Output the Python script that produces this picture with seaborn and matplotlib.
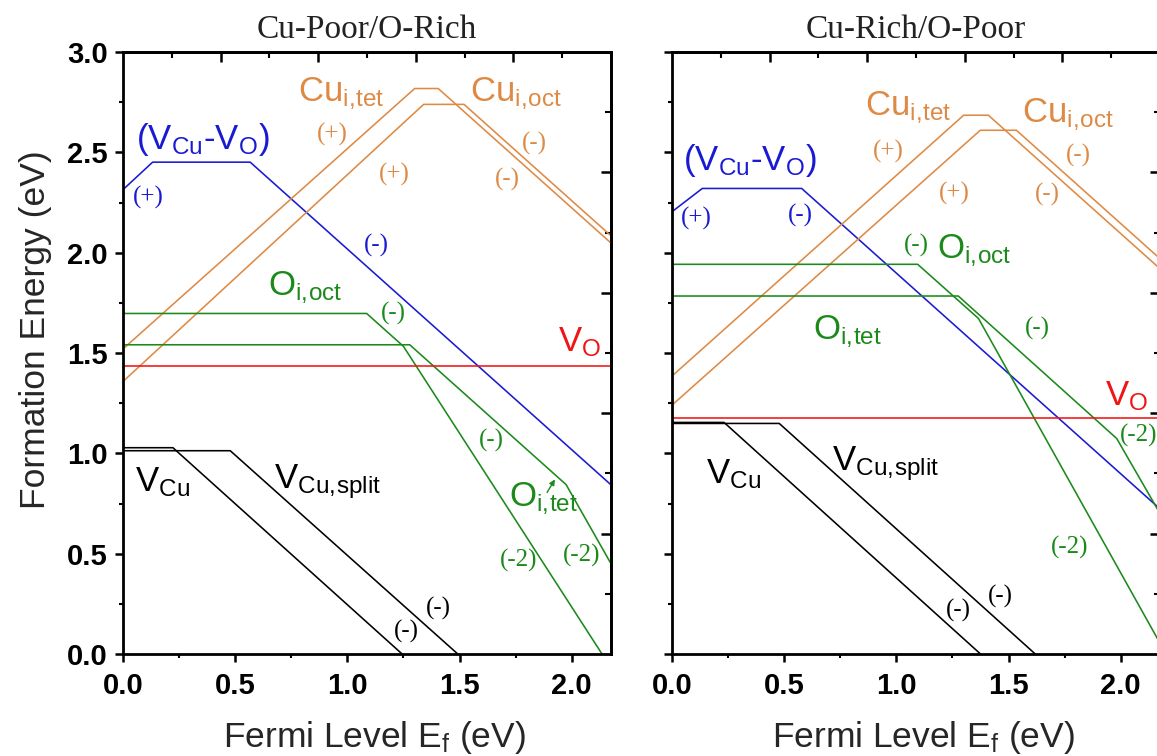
import matplotlib
matplotlib.use("Agg")
import matplotlib.pyplot as plt
import numpy as np
import pandas as pd
import seaborn as sns

# ---------------------------------------------------------------------------
# Formation energies (eV) vs Fermi level (eV), breakpoints of each defect line
# ---------------------------------------------------------------------------
XMAX = 2.175
YMAX = 3.0

# Cu-poor / O-rich
poor_vcuvo_x = [0.0, 0.132, 0.567, 2.175]
poor_vcuvo_y = [2.314, 2.451, 2.451, 0.843]
poor_cutet_x = [0.0, 1.30, 1.405, 2.175]
poor_cutet_y = [1.520, 2.818, 2.818, 2.048]
poor_cuoct_x = [0.0, 1.34, 1.52, 2.175]
poor_cuoct_y = [1.358, 2.739, 2.739, 2.084]
poor_ooct_x = [0.0, 1.086, 1.25, 2.135]
poor_ooct_y = [1.697, 1.697, 1.533, 0.0]
poor_otet_x = [0.0, 1.278, 1.975, 2.175]
poor_otet_y = [1.541, 1.541, 0.844, 0.450]
poor_vo_x = [0.0, 2.175]
poor_vo_y = [1.437, 1.437]
poor_vcu_x = [0.0, 0.2225, 1.244]
poor_vcu_y = [1.028, 1.028, 0.0]
poor_vcusplit_x = [0.0, 0.478, 1.492]
poor_vcusplit_y = [1.013, 1.013, 0.0]

# Cu-rich / O-poor
rich_vcuvo_x = [0.0, 0.135, 0.578, 2.175]
rich_vcuvo_y = [2.204, 2.320, 2.320, 0.723]
rich_cutet_x = [0.0, 1.30, 1.41, 2.175]
rich_cutet_y = [1.385, 2.685, 2.685, 1.920]
rich_cuoct_x = [0.0, 1.374, 1.535, 2.175]
rich_cuoct_y = [1.240, 2.610, 2.610, 1.970]
rich_ooct_x = [0.0, 1.095, 1.366, 2.175]
rich_ooct_y = [1.942, 1.942, 1.672, 0.054]
rich_otet_x = [0.0, 1.276, 1.982, 2.175]
rich_otet_y = [1.784, 1.784, 1.074, 0.700]
rich_vo_x = [0.0, 2.175]
rich_vo_y = [1.174, 1.174]
rich_vcu_x = [0.0, 0.232, 1.375]
rich_vcu_y = [1.154, 1.154, 0.0]
rich_vcusplit_x = [0.0, 0.478, 1.619]
rich_vcusplit_y = [1.149, 1.149, 0.0]

BLUE = "#1a1ad2"
ORANGE = "#de8a45"
GREEN = "#1b8a1b"
RED = "#f01414"
BLACK = "#000000"

COLORS = {
    "VCu-VO": BLUE, "Cu_i,tet": ORANGE, "Cu_i,oct": ORANGE,
    "O_i,oct": GREEN, "O_i,tet": GREEN, "VO": RED,
    "VCu": BLACK, "VCu,split": BLACK,
}

poor_series = [
    ("VCu-VO", poor_vcuvo_x, poor_vcuvo_y),
    ("Cu_i,tet", poor_cutet_x, poor_cutet_y),
    ("Cu_i,oct", poor_cuoct_x, poor_cuoct_y),
    ("O_i,oct", poor_ooct_x, poor_ooct_y),
    ("O_i,tet", poor_otet_x, poor_otet_y),
    ("VO", poor_vo_x, poor_vo_y),
    ("VCu", poor_vcu_x, poor_vcu_y),
    ("VCu,split", poor_vcusplit_x, poor_vcusplit_y),
]
rich_series = [
    ("VCu-VO", rich_vcuvo_x, rich_vcuvo_y),
    ("Cu_i,tet", rich_cutet_x, rich_cutet_y),
    ("Cu_i,oct", rich_cuoct_x, rich_cuoct_y),
    ("O_i,oct", rich_ooct_x, rich_ooct_y),
    ("O_i,tet", rich_otet_x, rich_otet_y),
    ("VO", rich_vo_x, rich_vo_y),
    ("VCu", rich_vcu_x, rich_vcu_y),
    ("VCu,split", rich_vcusplit_x, rich_vcusplit_y),
]


def to_frame(series):
    rows = []
    for name, xs, ys in series:
        for x, y in zip(xs, ys):
            rows.append({"defect": name, "Ef": x, "E": y})
    return pd.DataFrame(rows)


# Text annotations: (text, x, y, color, kind)
VCUVO = r"(V$_{\mathrm{Cu}}$-V$_{\mathrm{O}}$)"
CUTET = r"Cu$_{\mathrm{i,\!tet}}$"
CUOCT = r"Cu$_{\mathrm{i,\!oct}}$"
OOCT = r"O$_{\mathrm{i,\!oct}}$"
OTET = r"O$_{\mathrm{i,\!tet}}$"
VO = r"V$_{\mathrm{O}}$"
VCU = r"V$_{\mathrm{Cu}}$"
VCUS = r"V$_{\mathrm{Cu,\!split}}$"

poor_labels = [
    (VCUVO, 0.357, 2.562, BLUE, "s"),
    ("(+)", 0.115, 2.277, BLUE, "c"),
    ("(-)", 1.130, 2.038, BLUE, "c"),
    (CUTET, 0.974, 2.790, ORANGE, "s"),
    (CUOCT, 1.752, 2.793, ORANGE, "s"),
    ("(+)", 0.933, 2.587, ORANGE, "c"),
    ("(+)", 1.209, 2.388, ORANGE, "c"),
    ("(-)", 1.834, 2.545, ORANGE, "c"),
    ("(-)", 1.711, 2.363, ORANGE, "c"),
    (OOCT, 0.814, 1.826, GREEN, "s"),
    ("(-)", 1.206, 1.698, GREEN, "c"),
    (VO, 2.037, 1.552, RED, "s"),
    (VCU, 0.176, 0.858, BLACK, "s"),
    (VCUS, 0.910, 0.858, BLACK, "s"),
    ("(-)", 1.404, 0.225, BLACK, "c"),
    ("(-)", 1.261, 0.113, BLACK, "c"),
    ("(-)", 1.643, 1.063, GREEN, "c"),
    (OTET, 1.874, 0.775, GREEN, "s"),
    ("(-2)", 1.764, 0.467, GREEN, "c"),
    ("(-2)", 2.046, 0.493, GREEN, "c"),
]
rich_labels = [
    (VCUVO, 0.348, 2.461, BLUE, "s"),
    ("(+)", 0.110, 2.171, BLUE, "c"),
    ("(-)", 0.573, 2.187, BLUE, "c"),
    (CUTET, 1.054, 2.723, ORANGE, "s"),
    (CUOCT, 1.764, 2.685, ORANGE, "s"),
    ("(+)", 0.964, 2.502, ORANGE, "c"),
    ("(+)", 1.259, 2.295, ORANGE, "c"),
    ("(-)", 1.813, 2.483, ORANGE, "c"),
    ("(-)", 1.673, 2.292, ORANGE, "c"),
    ("(-)", 1.090, 2.038, GREEN, "c"),
    (OOCT, 1.345, 2.010, GREEN, "s"),
    (OTET, 0.783, 1.604, GREEN, "s"),
    ("(-)", 1.629, 1.624, GREEN, "c"),
    (VO, 2.024, 1.286, RED, "s"),
    ("(-2)", 2.080, 1.091, GREEN, "c"),
    ("(-2)", 1.774, 0.533, GREEN, "c"),
    (VCU, 0.273, 0.897, BLACK, "s"),
    (VCUS, 0.953, 0.951, BLACK, "s"),
    ("(-)", 1.463, 0.286, BLACK, "c"),
    ("(-)", 1.275, 0.219, BLACK, "c"),
]

# ---------------------------------------------------------------------------
sns.set_theme(style="ticks")
plt.rcParams["font.family"] = ["Liberation Sans", "DejaVu Sans"]
plt.rcParams["mathtext.fontset"] = "custom"
plt.rcParams["mathtext.rm"] = "Liberation Sans"
plt.rcParams["mathtext.it"] = "Liberation Sans:italic"
plt.rcParams["mathtext.bf"] = "Liberation Sans:bold"

W, H = 1157, 756
fig = plt.figure(figsize=(W / 100, H / 100), dpi=100)
fig.patch.set_facecolor("white")

ax_w = 488 / W
ax_h = 602 / H
ax_b = (H - 654) / H
ax_left = fig.add_axes([123 / W, ax_b, ax_w, ax_h])
ax_right = fig.add_axes([672 / W, ax_b, ax_w, ax_h])


def style_axes(ax, show_ylabels):
    ax.set_facecolor("white")
    ax.set_xlim(0, XMAX)
    ax.set_ylim(0, YMAX)
    ax.set_xticks(np.arange(0, 2.01, 0.5))
    ax.set_xticks(np.arange(0.25, 2.1, 0.5), minor=True)
    ax.set_yticks(np.arange(0, 3.01, 0.5))
    ax.set_yticks(np.arange(0.25, 3.0, 0.5), minor=True)
    ax.xaxis.set_major_formatter(matplotlib.ticker.FormatStrFormatter("%.1f"))
    ax.yaxis.set_major_formatter(matplotlib.ticker.FormatStrFormatter("%.1f"))
    ax.tick_params(which="major", direction="out", length=6, width=1.8,
                   labelsize=21, color="black", labelcolor="black")
    ax.tick_params(which="minor", direction="out", length=3, width=1.5,
                   color="black")
    ax.tick_params(axis="x", which="major", pad=7)
    ax.tick_params(axis="y", which="major", pad=5, labelleft=show_ylabels)
    for lab in ax.get_xticklabels() + ax.get_yticklabels():
        lab.set_fontweight("bold")
    for sp in ax.spines.values():
        sp.set_visible(True)
        sp.set_linewidth(2.0)
        sp.set_color("black")

    # Frame ticks: top divided in tenths of the x range, right in 0.3 eV steps
    top = ax.secondary_xaxis("top")
    top_ticks = np.linspace(0, XMAX, 11)
    top.set_xticks(top_ticks[2:-1:2])
    top.set_xticks(top_ticks[1::2], minor=True)
    top.tick_params(which="major", direction="in", length=7, width=1.8,
                    labeltop=False, color="black")
    top.tick_params(which="minor", direction="in", length=4, width=1.5,
                    color="black")
    top.spines["top"].set_linewidth(2.0)
    top.spines["top"].set_color("black")

    right = ax.secondary_yaxis("right")
    right.set_yticks(np.arange(0.6, 2.9, 0.6))
    right.set_yticks(np.arange(0.3, 3.0, 0.6), minor=True)
    right.tick_params(which="major", direction="in", length=7, width=1.8,
                      labelright=False, color="black")
    right.tick_params(which="minor", direction="in", length=4, width=1.5,
                      color="black")
    right.spines["right"].set_linewidth(2.0)
    right.spines["right"].set_color("black")


def draw_panel(ax, series, labels, title, show_ylabels):
    df = to_frame(series)
    sns.lineplot(data=df, x="Ef", y="E", hue="defect", palette=COLORS,
                 estimator=None, sort=False, legend=False, linewidth=1.15,
                 ax=ax)
    for text, x, y, color, kind in labels:
        if kind == "s":
            ax.text(x, y, text, color=color, fontsize=25, ha="center",
                    va="center", family="Liberation Sans")
        else:
            ax.text(x, y, text, color=color, fontsize=18, ha="center",
                    va="center", family="Liberation Serif")
    style_axes(ax, show_ylabels)
    ax.set_title(title, family="Liberation Serif", fontsize=24, pad=10,
                 color="#222222")
    ax.set_xlabel(r"Fermi Level E$_{\mathrm{f}}$ (eV)", fontsize=25.5)
    ax.xaxis.set_label_coords(0.515, -0.108)


draw_panel(ax_left, poor_series, poor_labels, "Cu-Poor/O-Rich", True)
draw_panel(ax_right, rich_series, rich_labels, "Cu-Rich/O-Poor", False)

ax_left.set_ylabel("Formation Energy (eV)", fontsize=25.5)
ax_left.yaxis.set_label_coords(-0.1463, 0.538)
ax_right.set_ylabel("")

# small pointer from the O_i,tet label to its line
ax_left.annotate("", xy=(1.925, 0.870), xytext=(1.890, 0.805),
                 arrowprops=dict(arrowstyle="-|>", color=GREEN, lw=1.0,
                                 mutation_scale=8, shrinkA=0, shrinkB=0))

fig.savefig("out.png", dpi=100, facecolor="white")
